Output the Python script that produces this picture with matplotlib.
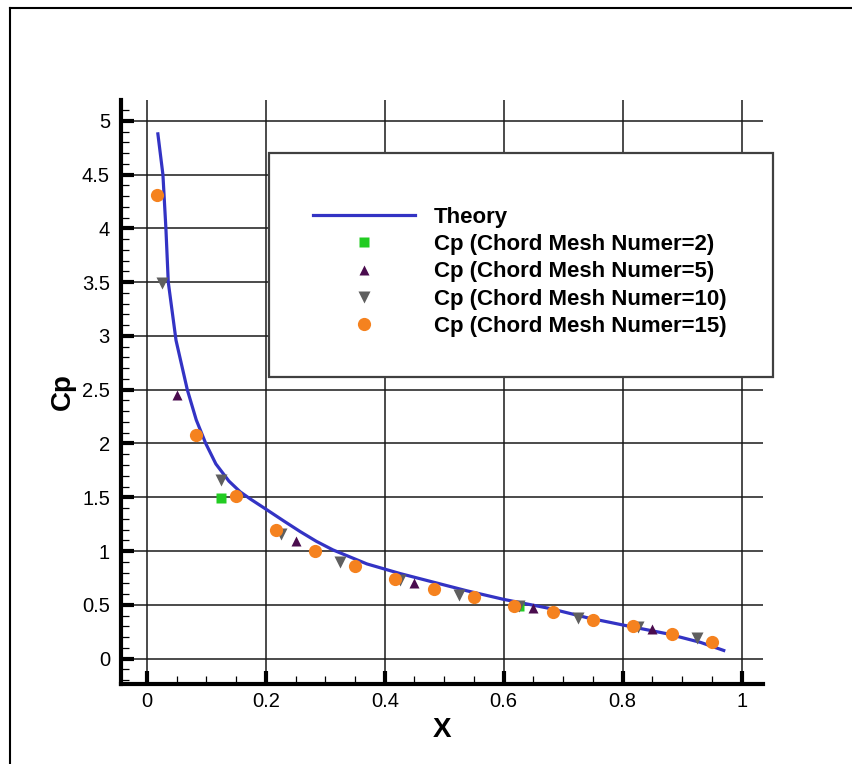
import matplotlib
matplotlib.use("Agg")
import matplotlib.pyplot as plt
from matplotlib.lines import Line2D
from matplotlib.patches import Rectangle
from matplotlib.ticker import MultipleLocator

plt.rcParams["font.family"] = ["Liberation Sans", "DejaVu Sans"]

# theory curve
theory_x = [0.0185, 0.027, 0.032, 0.036, 0.049, 0.068, 0.083, 0.099, 0.116, 0.138,
            0.157, 0.175, 0.200, 0.230, 0.258, 0.285, 0.313, 0.370, 0.426, 0.482,
            0.538, 0.600, 0.678, 0.740, 0.802, 0.875, 0.931, 0.970]
theory_cp = [4.88, 4.50, 4.00, 3.50, 2.96, 2.50, 2.22, 2.00, 1.81, 1.65,
             1.55, 1.48, 1.39, 1.28, 1.18, 1.09, 1.01, 0.88, 0.79, 0.71,
             0.63, 0.55, 0.465, 0.38, 0.31, 0.23, 0.15, 0.075]

# chord mesh = 2
m2_x = [0.125, 0.625]
m2_cp = [1.49, 0.49]

# chord mesh = 5
m5_x = [0.05, 0.25, 0.45, 0.65, 0.85]
m5_cp = [2.45, 1.09, 0.70, 0.47, 0.275]

# chord mesh = 10
m10_x = [0.025, 0.125, 0.225, 0.325, 0.425, 0.525, 0.625, 0.725, 0.825, 0.925]
m10_cp = [3.49, 1.66, 1.16, 0.90, 0.73, 0.59, 0.49, 0.375, 0.29, 0.19]

# chord mesh = 15
m15_x = [0.017, 0.083, 0.150, 0.217, 0.283, 0.350, 0.417, 0.483, 0.550, 0.617,
         0.683, 0.750, 0.817, 0.883, 0.950]
m15_cp = [4.31, 2.08, 1.51, 1.20, 1.00, 0.86, 0.74, 0.65, 0.57, 0.49,
          0.43, 0.36, 0.30, 0.23, 0.15]

labels = ["Theory",
          "Cp (Chord Mesh Numer=2)",
          "Cp (Chord Mesh Numer=5)",
          "Cp (Chord Mesh Numer=10)",
          "Cp (Chord Mesh Numer=15)"]

W, H = 853, 764
fig = plt.figure(figsize=(W / 100, H / 100), dpi=100)
ax = fig.add_axes([121 / W, 1 - 684 / H, (763 - 121) / W, (684 - 100) / H])

h0, = ax.plot(theory_x, theory_cp, color="#3333c4", lw=2.3, zorder=3)
h1, = ax.plot(m2_x, m2_cp, "s", color="#22cc22", ms=6.5, mec="none", zorder=4)
h2, = ax.plot(m5_x, m5_cp, "^", color="#4a0c4e", ms=7.5, mec="none", zorder=4)
h3, = ax.plot(m10_x, m10_cp, "v", color="#5f5f5f", ms=8.5, mec="none", zorder=5)
h4, = ax.plot(m15_x, m15_cp, "o", color="#f5821f", ms=9.5, mec="none", zorder=6)

ax.set_xlim(-0.0435, 1.036)
ax.set_ylim(-0.237, 5.195)
ax.xaxis.set_minor_locator(MultipleLocator(0.05))
ax.yaxis.set_minor_locator(MultipleLocator(0.1))
ax.set_xticks([0, 0.2, 0.4, 0.6, 0.8, 1.0])
ax.set_xticklabels(["0", "0.2", "0.4", "0.6", "0.8", "1"])
ax.set_yticks([0, 0.5, 1, 1.5, 2, 2.5, 3, 3.5, 4, 4.5, 5])
ax.set_yticklabels(["0", "0.5", "1", "1.5", "2", "2.5", "3", "3.5", "4", "4.5", "5"])

ax.grid(True, which="major", color="#1a1a1a", lw=1.1)
ax.set_axisbelow(True)
for side in ["top", "right"]:
    ax.spines[side].set_visible(False)
for side in ["left", "bottom"]:
    ax.spines[side].set_linewidth(3)
ax.tick_params(which="major", direction="in", length=9.5, width=3, labelsize=14.5)
ax.tick_params(which="minor", direction="in", length=5.5, width=0.9)
ax.tick_params(axis="y", which="major", pad=8)
ax.tick_params(axis="x", which="major", pad=6)

ax.set_xlabel("X", fontsize=20, fontweight="bold", labelpad=4)
ax.set_ylabel("Cp", fontsize=20, fontweight="bold", labelpad=4)

# legend box
fig.add_artist(Rectangle((269 / W, 1 - 377 / H), (773 - 269) / W, (377 - 153) / H,
                         transform=fig.transFigure, facecolor="white",
                         edgecolor="#404040", lw=1.6, zorder=10))
leg = fig.legend([h0, h1, h2, h3, h4], labels, loc="center",
                 bbox_to_anchor=(520 / W, 1 - 272 / H), frameon=False,
                 numpoints=1, handlelength=4.6, handletextpad=0.85,
                 labelspacing=0.28, prop={"weight": "bold", "size": 16})
leg.set_zorder(11)

# outer frame
fig.add_artist(Line2D([9.5 / W, 9.5 / W], [0, 1 - 8 / H], color="black", lw=1.5))
fig.add_artist(Line2D([9.5 / W, 1], [1 - 8 / H, 1 - 8 / H], color="black", lw=1.5))

fig.savefig("out.png", dpi=100)
plt.close(fig)
